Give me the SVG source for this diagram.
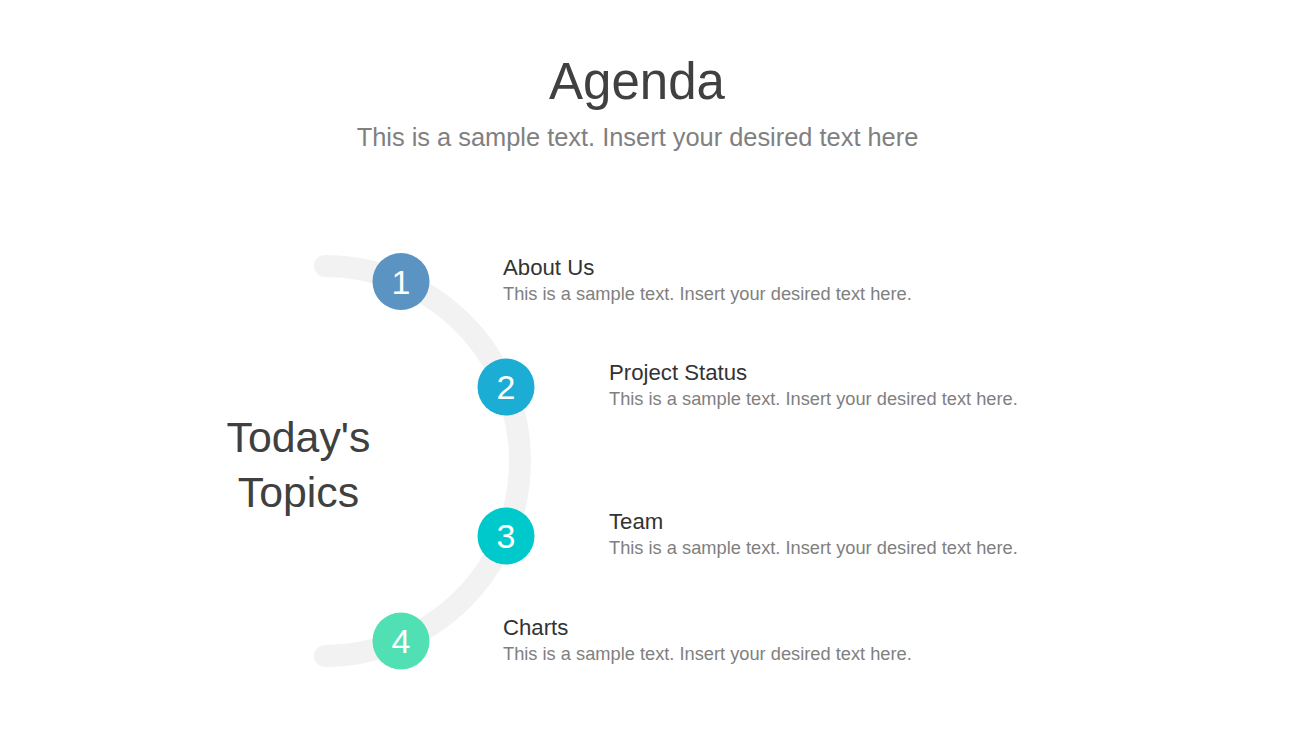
<svg xmlns="http://www.w3.org/2000/svg" width="1302" height="734" viewBox="0 0 1302 734">
<style>
text{font-family:"Liberation Sans",Arial,sans-serif}
.t{fill:#404040}
.s{fill:#808080}
.num{fill:#fff;font-size:34px;text-anchor:middle}
.h{fill:#333;font-size:22.2px}
.d{fill:#7f7f7f;font-size:18.25px}
</style>
<rect width="1302" height="734" fill="#fff"/>
<text class="t" x="637" y="99" font-size="51" text-anchor="middle">Agenda</text>
<text class="s" x="637.5" y="146" font-size="25.4" text-anchor="middle">This is a sample text. Insert your desired text here</text>
<g id="connectors">
<path d="M 325 266 A 195 195 0 0 1 325 656" fill="none" stroke="#f2f2f2" stroke-width="22" stroke-linecap="round"/>
</g>
<g id="center">
<text class="t" x="298.5" y="452" font-size="42.8" text-anchor="middle">Today's</text>
<text class="t" x="298.5" y="507" font-size="42.8" text-anchor="middle">Topics</text>
</g>
<g id="n1">
<circle cx="401" cy="281.5" r="28.5" fill="#5b94c2"/>
<text class="num" x="401" y="293.5">1</text>
<text class="h" x="503" y="275">About Us</text>
<text class="d" x="503" y="299.5">This is a sample text. Insert your desired text here.</text>
</g>
<g id="n2">
<circle cx="506" cy="387" r="28.5" fill="#1badd4"/>
<text class="num" x="506" y="399">2</text>
<text class="h" x="609" y="380">Project Status</text>
<text class="d" x="609" y="404.5">This is a sample text. Insert your desired text here.</text>
</g>
<g id="n3">
<circle cx="506" cy="536" r="28.5" fill="#00c9cb"/>
<text class="num" x="506" y="548">3</text>
<text class="h" x="609" y="529">Team</text>
<text class="d" x="609" y="553.5">This is a sample text. Insert your desired text here.</text>
</g>
<g id="n4">
<circle cx="401" cy="641" r="28.5" fill="#50e0b3"/>
<text class="num" x="401" y="653">4</text>
<text class="h" x="503" y="635">Charts</text>
<text class="d" x="503" y="659.5">This is a sample text. Insert your desired text here.</text>
</g>
</svg>
